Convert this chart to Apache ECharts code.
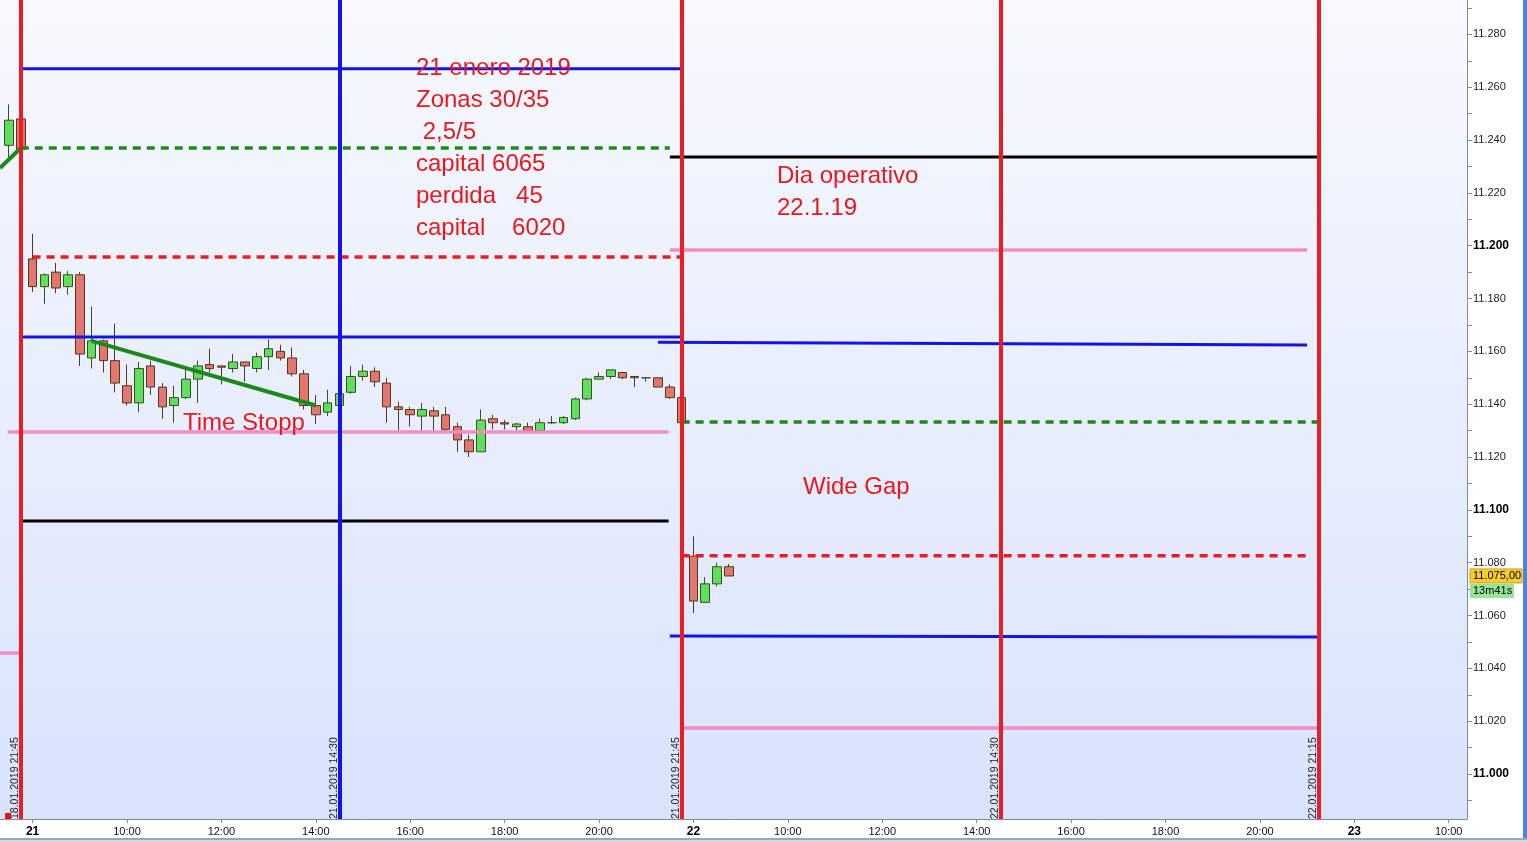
<!DOCTYPE html>
<html><head><meta charset="utf-8">
<script src="https://cdn.jsdelivr.net/npm/echarts@6/dist/echarts.min.js"></script>
<style>html,body{margin:0;padding:0;background:#fff}#c{width:1527px;height:842px}</style>
</head><body><div id="c"></div>
<script>
// slot index: 0 = 18.01.2019 21:45, 1 = 21.01.2019 08:00, 57 = 22.01.2019 08:00 (15-min bars)
const slots  = [-1,0,1,2,3,4,5,6,7,8,9,10,11,12,13,14,15,16,17,18,19,20,21,22,23,24,25,26,27,28,29,30,31,32,33,34,35,36,37,38,39,40,41,42,43,44,45,46,47,48,49,50,51,52,53,54,55,56,57,58,59,60];
const opens  = [11238,11248,11195,11184.5,11190,11184.5,11189,11157.5,11164,11156.5,11147,11140.5,11154.5,11146.5,11139.5,11142.5,11149.5,11155,11154.5,11153.5,11156,11153.5,11158,11160,11157.5,11151.5,11139.5,11137,11139.5,11144.5,11150.5,11152.5,11148,11139,11138,11135.5,11137.5,11136,11131.5,11126.5,11122,11134.5,11133,11131.5,11131.5,11130,11133,11133,11134.5,11142,11149.5,11150.5,11152,11150.5,11150,11150,11146.5,11142.5,11082.5,11065,11072,11078.5];
const closes = [11247.5,11236.5,11184.5,11189,11184,11189,11159,11164,11156.5,11148,11140.5,11153.5,11146.5,11139,11142.5,11149.5,11154.5,11153.5,11154,11156,11154.5,11158,11161,11157.5,11151.5,11139.5,11136,11140.5,11144,11150.5,11152.5,11148.5,11139,11138,11136,11138,11135.5,11130.5,11126.5,11122,11134,11133,11132.5,11132.5,11130,11133,11133,11135,11142,11149.5,11150.5,11153,11150,11150,11150,11146.5,11142.5,11133,11065.5,11072,11078.5,11075];
const lows   = [11233.5,11236,11182.5,11178,11182,11181.5,11154.5,11153.5,11152,11144.5,11139.5,11137,11143.5,11134.5,11133,11142,11140.5,11152,11147.5,11152,11148.5,11152,11153,11156.5,11150.5,11138,11132.5,11135.5,11139,11144,11149,11146.5,11133,11130,11131.5,11130,11130,11130,11122,11120,11122,11130.5,11130.5,11130,11129.5,11129.5,11132.5,11132.5,11134,11141.5,11149.5,11149.5,11149.5,11146.5,11148.5,11146.5,11142,11133,11061,11065,11071,11075];
const highs  = [11253.5,11248.5,11204.5,11189.5,11193.5,11190.5,11190,11177,11164.5,11170.5,11155,11156,11156.5,11148,11147,11153,11156.5,11161,11154.5,11159,11156,11159.5,11164.5,11162.5,11161.5,11153,11143.5,11145.5,11145,11154.5,11155,11154,11150,11141,11139,11140.5,11139,11139,11133,11128.5,11138,11136,11134,11133,11133,11134.5,11135.5,11135.5,11142.5,11150,11152,11153,11152,11150.5,11150,11150,11147.5,11143,11090,11074.5,11080,11079.5];

// horizontal drawing levels (slot from/to, price from/to)
const levelFrom      = [0, 0, 1, 0, -1.1, 0, -1.76, 55, 55, 54, 56, 56, 55, 56];
const levelTo        = [56, 55, 56, 56, 54.9, 54.9, 0, 110, 109, 109, 110, 109, 110, 110];
const levelFromPrice = [11267, 11237, 11195.7, 11165.4, 11129.5, 11095.8, 11045.8, 11233.6, 11198.4, 11163.5, 11133.3, 11082.6, 11052.3, 11017.4];
const levelToPrice   = [11267, 11237, 11195.7, 11165.4, 11129.5, 11095.8, 11045.8, 11233.6, 11198.4, 11162.4, 11133.3, 11082.6, 11051.9, 11017.4];
const levelKind      = ['blue','greenDash','redDash','blue','pink','black','pink','black','pink','blue','greenDash','redDash','blue','pink'];

// trend lines
const trendFrom      = [-1.76, 6];
const trendTo        = [0, 25];
const trendFromPrice = [11229.4, 11164];
const trendToPrice   = [11237, 11139.5];

// vertical time markers
const vSlots  = [0, 27, 56, 83, 110];
const vLabels = ['18.01.2019 21:45','21.01.2019 14:30','21.01.2019 21:45','22.01.2019 14:30','22.01.2019 21:15'];
const vKind   = ['red','blue','red','red','red'];

// axes
const xTickSlots  = [1,9,17,25,33,41,49,57,65,73,81,89,97,105,113,121];
const xTickLabels = ['21','10:00','12:00','14:00','16:00','18:00','20:00','22','10:00','12:00','14:00','16:00','18:00','20:00','23','10:00'];
const xBold       = ['21','22','23'];
const yLabelValues = [11000,11020,11040,11060,11080,11100,11120,11140,11160,11180,11200,11220,11240,11260,11280];
const yTickValues  = [10990,11000,11010,11020,11030,11040,11050,11060,11070,11080,11090,11100,11110,11120,11130,11140,11150,11160,11170,11180,11190,11200,11210,11220,11230,11240,11250,11260,11270,11280,11290];

// annotations
const notesLeft  = ['21 enero 2019','Zonas 30/35',' 2,5/5','capital 6065','perdida   45','capital    6020'];
const notesRight = ['Dia operativo','22.1.19'];
const noteStop = 'Time Stopp';
const noteGap = 'Wide Gap';
const lastPrice = 11075;
const lastPriceText = '11.075,00';
const timerText = '13m41s';

const COLORS = {red:'#ec1c24', blue:'#1414e6', pink:'#f38bc6', black:'#000000', green:'#1b8a1b'};
const levelStyle = {
  blue: {color: COLORS.blue, width: 3, type: 'solid'},
  pink: {color: COLORS.pink, width: 3.5, type: 'solid'},
  black:{color: COLORS.black, width: 3, type: 'solid'},
  redDash:{color: COLORS.red, width: 3.5, type: [8,6]},
  greenDash:{color: COLORS.green, width: 3.5, type: [8,6]}
};

const chart = echarts.init(document.getElementById('c'), null, {renderer:'canvas'});
const FONT = '"Liberation Sans", Arial, sans-serif';

const candleData = slots.map((s,k)=>[s, opens[k], closes[k], lows[k], highs[k]]);

const series = [{
  type:'candlestick', name:'DAX', data: candleData, encode:{x:0, y:[1,2,3,4]},
  barWidth: 9, z: 2,
  itemStyle:{color:'#5fdf5f', color0:'#e3776f', borderColor:'#3b4d1e', borderColor0:'#4d3b1e', borderWidth:1}
}];
levelFrom.forEach((f,k)=>{
  const st = levelStyle[levelKind[k]];
  series.push({type:'line', data:[[f, levelFromPrice[k]],[levelTo[k], levelToPrice[k]]], showSymbol:false, symbol:'none',
    silent:true, z:3, lineStyle:{color: st.color, width: st.width, type: st.type, cap:'butt'}});
});
trendFrom.forEach((f,k)=>{
  series.push({type:'line', data:[[f, trendFromPrice[k]],[trendTo[k], trendToPrice[k]]], showSymbol:false, symbol:'none',
    silent:true, z:4, lineStyle:{color: COLORS.green, width: 4}});
});
series.push({type:'line', data:[], z:6, silent:true,
  markLine:{symbol:['none','none'], silent:true, animation:false,
    data: vSlots.map((s,k)=>({xAxis:s, name:vLabels[k],
      lineStyle:{color: COLORS[vKind[k]], width:4, type:'solid'},
      label:{show:true, position:'insideStartTop', formatter:'{b}', color:'#222', fontSize:10.5, fontFamily:FONT, distance:0}}))
  }});

const option = {
  animation:false,
  backgroundColor:'#ffffff',
  grid:{left:0, top:0, width:1467, height:819, show:true, borderWidth:0,
    backgroundColor: new echarts.graphic.LinearGradient(0,0,0,1,[{offset:0,color:'#f7f9fe'},{offset:1,color:'#d9e3fb'}])},
  xAxis:{type:'value', min:-1.76, max:122.55,
    axisLine:{show:true, onZero:false, lineStyle:{color:'#7f8c99', width:1}},
    axisTick:{show:true, customValues:xTickSlots, length:4, lineStyle:{color:'#7f8c99'}},
    splitLine:{show:false},
    axisLabel:{customValues:xTickSlots, margin:7, fontSize:11, color:'#111', fontFamily:FONT,
      formatter:(v)=>{const k = xTickSlots.indexOf(Math.round(v)); const t = k>=0 ? xTickLabels[k] : ''; return xBold.includes(t) ? '{b|'+t+'}' : t;},
      rich:{b:{fontWeight:'bold', fontSize:12, color:'#000', fontFamily:FONT}}}
  },
  yAxis:{type:'value', position:'right', min:10983, max:11293, scale:true,
    axisLine:{show:true, onZero:false, lineStyle:{color:'#7f8c99', width:1}},
    axisTick:{show:true, customValues:yTickValues, length:5, lineStyle:{color:'#7f8c99'}},
    splitLine:{show:false},
    axisLabel:{customValues:yLabelValues, margin:6, fontSize:11, color:'#222', fontFamily:FONT,
      formatter:(v)=>{const r = Math.round(v); const s = Math.floor(r/1000)+'.'+String(r%1000).padStart(3,'0'); return r%100===0 ? '{b|'+s+'}' : s;},
      rich:{b:{fontWeight:'bold', fontSize:12, color:'#000', fontFamily:FONT}}}
  },
  series: series
};
chart.setOption(option);

const yLast = chart.convertToPixel({yAxisIndex:0}, lastPrice);
const markPx = chart.convertToPixel({gridIndex:0}, [-1, 10983]);
const noteStyle = {font:'24px '+FONT, fill:'#e8191e'};
chart.setOption({graphic:[
  {type:'text', x:416, y:52, z:10, style:Object.assign({text:notesLeft.join('\n'), lineHeight:32, textVerticalAlign:'top'}, noteStyle)},
  {type:'text', x:777, y:160, z:10, style:Object.assign({text:notesRight.join('\n'), lineHeight:32, textVerticalAlign:'top'}, noteStyle)},
  {type:'text', x:183, y:423, z:10, style:Object.assign({text:noteStop, textVerticalAlign:'middle'}, noteStyle)},
  {type:'text', x:803, y:487, z:10, style:Object.assign({text:noteGap, textVerticalAlign:'middle'}, noteStyle)},
  {type:'rect', shape:{x:markPx[0]-4, y:markPx[1]-6, width:6, height:6}, style:{fill:'#e01515'}, z:10},
  {type:'rect', shape:{x:1470, y:yLast-7, width:52, height:14}, style:{fill:'#f6cd2a', stroke:'#c8a010', lineWidth:1}, z:10},
  {type:'text', x:1473, y:yLast, z:11, style:{text:lastPriceText, font:'11px '+FONT, fill:'#000', textVerticalAlign:'middle'}},
  {type:'rect', shape:{x:1470, y:yLast+8, width:44, height:14}, style:{fill:'#96e59a'}, z:10},
  {type:'text', x:1473, y:yLast+15, z:11, style:{text:timerText, font:'11px '+FONT, fill:'#000', textVerticalAlign:'middle'}},
  {type:'rect', shape:{x:0, y:838, width:1527, height:2}, style:{fill:'#9aa8b6'}, z:10},
  {type:'rect', shape:{x:0, y:840, width:1527, height:2}, style:{fill:'#cfd9e2'}, z:10},
  {type:'rect', shape:{x:1523, y:0, width:4, height:838}, style:{fill:'#4a84dc'}, z:10}
]});
</script>
</body></html>
